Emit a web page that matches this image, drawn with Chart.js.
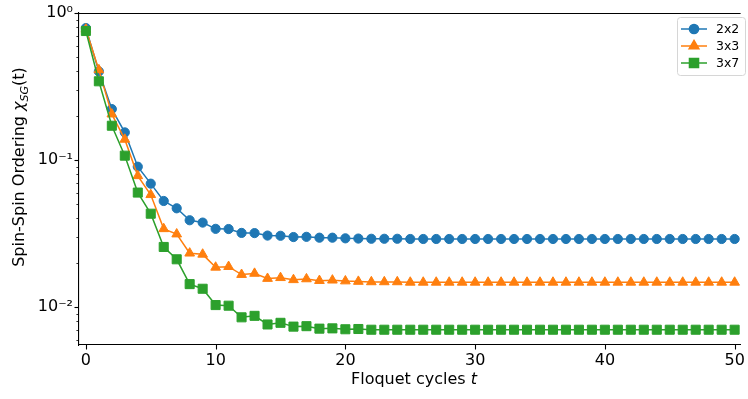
<!DOCTYPE html>
<html>
<head>
<meta charset="utf-8">
<script src="https://cdn.jsdelivr.net/npm/chart.js@4/dist/chart.umd.min.js"></script>
<style>
    html, body { margin: 0; padding: 0; background: #fff; }
    canvas { display: block; }
</style>
</head>
<body>
<canvas id="chart" width="748" height="399"></canvas>
<script>
const cycles = [0, 1, 2, 3, 4, 5, 6, 7, 8, 9, 10, 11, 12, 13, 14, 15, 16, 17, 18, 19, 20,
    21, 22, 23, 24, 25, 26, 27, 28, 29, 30, 31, 32, 33, 34, 35, 36, 37, 38, 39, 40,
    41, 42, 43, 44, 45, 46, 47, 48, 49, 50];

const chi2x2 = [0.79, 0.40, 0.222, 0.154, 0.090, 0.069, 0.0526, 0.0469, 0.0389, 0.0375,
    0.0340, 0.0339, 0.0319, 0.0318, 0.0306, 0.0305, 0.0299, 0.0300, 0.0296, 0.0296,
    0.0293, 0.0292, 0.0291, 0.0291, 0.0291, 0.0290, 0.0290, 0.0290, 0.0290, 0.0290,
    0.0290, 0.0290, 0.0290, 0.0290, 0.0290, 0.0290, 0.0290, 0.0290, 0.0290, 0.0290,
    0.0290, 0.0290, 0.0290, 0.0290, 0.0290, 0.0290, 0.0290, 0.0290, 0.0290, 0.0290, 0.0290];

const chi3x3 = [0.775, 0.41, 0.205, 0.138, 0.078, 0.058, 0.034, 0.0313, 0.0232, 0.0228,
    0.0186, 0.0188, 0.0166, 0.0169, 0.0156, 0.0158, 0.0153, 0.0155, 0.0151, 0.0152,
    0.0150, 0.0149, 0.0148, 0.0148, 0.0148, 0.0147, 0.0147, 0.0147, 0.0147, 0.0147,
    0.0147, 0.0147, 0.0147, 0.0147, 0.0147, 0.0147, 0.0147, 0.0147, 0.0147, 0.0147,
    0.0147, 0.0147, 0.0147, 0.0147, 0.0147, 0.0147, 0.0147, 0.0147, 0.0147, 0.0147, 0.0147];

const chi3x7 = [0.754, 0.343, 0.171, 0.107, 0.060, 0.0431, 0.0256, 0.0211, 0.0143, 0.0133,
    0.0103, 0.0102, 0.0085, 0.0087, 0.0076, 0.0078, 0.00735, 0.0074, 0.00712, 0.00715,
    0.00705, 0.00708, 0.0070, 0.0070, 0.0070, 0.0070, 0.0070, 0.0070, 0.0070, 0.0070,
    0.0070, 0.0070, 0.0070, 0.0070, 0.0070, 0.0070, 0.0070, 0.0070, 0.0070, 0.0070,
    0.0070, 0.0070, 0.0070, 0.0070, 0.0070, 0.0070, 0.0070, 0.0070, 0.0070, 0.0070, 0.0070];

const seriesLabels = ['2x2', '3x3', '3x7'];
const xTicks = [0, 10, 20, 30, 40, 50];
const yMajorTicks = [0.01, 0.1, 1];
const yTickLabels = ['10⁻²', '10⁻¹', '10⁰'];

const FONT = "'DejaVu Sans', sans-serif";
const colors = ['#1f77b4', '#ff7f0e', '#2ca02c'];
const markers = [
    { style: 'circle', radius: 4.6 },
    { style: 'triangle', radius: 5.6 },
    { style: 'rect', radius: 6.4 }
];

function toPoints(values) {
    return cycles.map((t, i) => ({ x: t, y: values[i] }));
}

function minorLogTicks() {
    // 2..9 x 10^n between the axis limits, plus the decades
    const ticks = [];
    [0.001, 0.01, 0.1].forEach(dec => {
        for (let m = 1; m <= 9; m++) ticks.push(+(m * dec).toPrecision(3));
    });
    ticks.push(1);
    return ticks;
}

const decorPlugin = {
    id: 'decor',
    afterDraw(chart) {
        const ctx = chart.ctx;
        const area = chart.chartArea;
        const xs = chart.scales.x;
        const ys = chart.scales.y;
        ctx.save();

        // top spine
        ctx.strokeStyle = '#000';
        ctx.lineWidth = 1.1;
        ctx.beginPath();
        ctx.moveTo(area.left, area.top + 0.5);
        ctx.lineTo(area.right, area.top + 0.5);
        ctx.stroke();

        // tick marks
        ctx.lineWidth = 1;
        ys.ticks.forEach(t => {
            const py = Math.round(ys.getPixelForValue(t.value)) + 0.5;
            if (py < area.top - 1 || py > area.bottom + 1) return;
            const major = yMajorTicks.includes(t.value);
            ctx.lineWidth = major ? 1.1 : 0.8;
            ctx.beginPath();
            ctx.moveTo(area.left, py);
            ctx.lineTo(area.left - (major ? 4.5 : 2.6), py);
            ctx.stroke();
        });
        ctx.lineWidth = 1.1;
        xs.ticks.forEach(t => {
            const px = Math.round(xs.getPixelForValue(t.value)) + 0.5;
            ctx.beginPath();
            ctx.moveTo(px, area.bottom);
            ctx.lineTo(px, area.bottom + 4.5);
            ctx.stroke();
        });

        // x title
        ctx.fillStyle = '#000';
        ctx.textBaseline = 'alphabetic';
        ctx.font = '16px ' + FONT;
        const part1 = 'Floquet cycles ';
        const w1 = ctx.measureText(part1).width;
        ctx.font = 'italic 16px ' + FONT;
        const w2 = ctx.measureText('t').width;
        let x0 = 414 - (w1 + w2) / 2;
        ctx.font = '16px ' + FONT;
        ctx.fillText(part1, x0, 384);
        ctx.font = 'italic 16px ' + FONT;
        ctx.fillText('t', x0 + w1, 384);

        // y title with subscript
        const parts = [
            { text: 'Spin-Spin Ordering ', font: '16px ' + FONT, dy: 0 },
            { text: 'χ', font: 'italic 16px ' + FONT, dy: 0 },
            { text: 'SG', font: 'italic 11px ' + FONT, dy: 3.5 },
            { text: '(t)', font: '16px ' + FONT, dy: 0 }
        ];
        let total = 0;
        parts.forEach(p => { ctx.font = p.font; p.w = ctx.measureText(p.text).width; total += p.w; });
        ctx.translate(24, 167);
        ctx.rotate(-Math.PI / 2);
        let u = -total / 2;
        parts.forEach(p => {
            ctx.font = p.font;
            ctx.fillText(p.text, u, p.dy);
            u += p.w;
        });
        ctx.restore();

        // legend
        ctx.save();
        const lx = 677, ly = 17, lw = 68, lh = 58;
        ctx.beginPath();
        ctx.roundRect(lx + 0.5, ly + 0.5, lw, lh, 3);
        ctx.fillStyle = 'rgba(255,255,255,0.8)';
        ctx.fill();
        ctx.strokeStyle = '#d6d6d6';
        ctx.lineWidth = 1;
        ctx.stroke();
        chart.data.datasets.forEach((ds, i) => {
            const cy = 29 + i * 17;
            ctx.strokeStyle = ds.borderColor;
            ctx.fillStyle = ds.backgroundColor;
            ctx.lineWidth = 1.5;
            ctx.beginPath();
            ctx.moveTo(681, cy);
            ctx.lineTo(707, cy);
            ctx.stroke();
            Chart.helpers.drawPoint(ctx, {
                pointStyle: ds.pointStyle, radius: ds.pointRadius, rotation: 0, borderWidth: 1
            }, 694, cy);
            ctx.fillStyle = '#000';
            ctx.font = '12.5px ' + FONT;
            ctx.textBaseline = 'middle';
            ctx.fillText(ds.label, 716, cy + 0.5);
        });
        ctx.restore();
    }
};

const datasets = [chi2x2, chi3x3, chi3x7].map((vals, i) => ({
    label: seriesLabels[i],
    data: toPoints(vals),
    borderColor: colors[i],
    backgroundColor: colors[i],
    borderWidth: 1.5,
    pointStyle: markers[i].style,
    pointRadius: markers[i].radius,
    pointBorderWidth: 1,
    pointHoverRadius: markers[i].radius,
    tension: 0,
    order: 2 - i
}));

new Chart(document.getElementById('chart'), {
    type: 'line',
    data: { datasets: datasets },
    options: {
        responsive: false,
        devicePixelRatio: 1,
        animation: false,
        layout: { padding: { top: 13, left: 0, right: 0, bottom: 0 } },
        plugins: {
            legend: { display: false },
            tooltip: { enabled: false }
        },
        scales: {
            x: {
                type: 'linear',
                min: -0.53,
                max: 50.46,
                afterFit: s => { s.height = 54; },
                afterBuildTicks: s => { s.ticks = xTicks.map(v => ({ value: v })); },
                grid: { display: false, drawTicks: true, tickLength: 4.5 },
                border: { display: true, color: '#000', width: 1.1 },
                ticks: {
                    autoSkip: false,
                    maxRotation: 0,
                    padding: 2,
                    color: '#000',
                    font: { family: FONT, size: 16 }
                }
            },
            y: {
                type: 'logarithmic',
                min: 0.00551,
                max: 1,
                afterFit: s => { s.width = 79; },
                afterBuildTicks: s => { s.ticks = minorLogTicks().map(v => ({ value: v })); },
                grid: { display: false, drawTicks: true, tickLength: 4.5 },
                border: { display: true, color: '#000', width: 1.1 },
                ticks: {
                    autoSkip: false,
                    padding: 1.5,
                    color: '#000',
                    font: { family: FONT, size: 16 },
                    callback: function(value) {
                        const k = yMajorTicks.indexOf(value);
                        return k >= 0 ? yTickLabels[k] : '';
                    }
                }
            }
        }
    },
    plugins: [decorPlugin]
});
</script>
</body>
</html>
